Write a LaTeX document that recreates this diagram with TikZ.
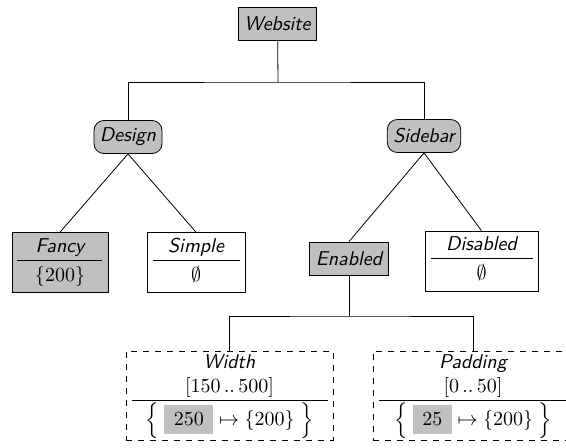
\documentclass[tikz,border=0pt]{standalone}
\usetikzlibrary{positioning}
\definecolor{nodegray}{RGB}{192,192,192}
\tikzset{
  feature/.style={draw=black, fill=nodegray, inner xsep=3pt, inner ysep=0pt, minimum height=16.5pt, font=\sffamily\itshape},
  group/.style={feature, rounded corners=5pt},
  leaf/.style={draw=black, inner xsep=2.75pt, inner ysep=1.5pt},
  attr/.style={draw=black, dashed, inner xsep=2.75pt, inner ysep=0.5pt},
}
\newcommand{\leaftext}[3]{\begin{tabular}{@{}c@{}}\makebox[#1]{\sffamily\itshape #2}\\\hline\rule[-4pt]{0pt}{14.5pt}#3\end{tabular}}
\newcommand{\attrtext}[4]{\begin{tabular}{@{}c@{}}\makebox[#1]{\sffamily\itshape #2}\\#3\\\hline\rule{0pt}{12.5pt}#4\end{tabular}}
\newcommand{\chosen}[1]{{\setlength{\fboxsep}{4pt}\colorbox{nodegray}{\hspace{0.75pt}$#1$\hspace{0.75pt}}}}
\begin{document}
\begin{tikzpicture}[x=0.5pt,y=-0.5pt]
    \useasboundingbox (0,0) rectangle (566,448);
    \node[feature] (website) at (277.5,23.5) {Website};
    \node[group] (design) at (128,137) {Design};
    \node[group] (sidebar) at (424,136) {Sidebar};
    \node[leaf,fill=nodegray] (fancy) at (60,262.5) {\leaftext{42.5pt}{Fancy}{$\{200\}$}};
    \node[leaf] (simple) at (196,262.5) {\leaftext{43.5pt}{Simple}{$\emptyset$}};
    \node[feature] (enabled) at (349,258.5) {Enabled};
    \node[leaf] (disabled) at (481.5,261) {\leaftext{51pt}{Disabled}{$\emptyset$}};
    \node[attr] (width) at (229.5,395.5) {\attrtext{98pt}{Width}{$[150\,..\,500]$}{$\Bigl\{\;\mbox{\chosen{250}}\mapsto\{200\}\;\Bigr\}$}};
    \node[attr] (padding) at (473,395.5) {\attrtext{94.5pt}{Padding}{$[0\,..\,50]$}{$\Bigl\{\;\mbox{\chosen{25}}\mapsto\{200\}\;\Bigr\}$}};
    \coordinate (topbar) at (278,82);
    \coordinate (midbar) at (349,316);
    \draw (website) -- (topbar);
    \draw (design) |- (topbar) -| (sidebar);
    \draw (design.south) -- (fancy.north);
    \draw (design.south) -- (simple.north);
    \draw (sidebar.south) -- (enabled.north);
    \draw (sidebar.south) -- (disabled.north);
    \draw (enabled) -- (midbar);
    \draw (width) |- (midbar) -| (padding);
\end{tikzpicture}
\end{document}
